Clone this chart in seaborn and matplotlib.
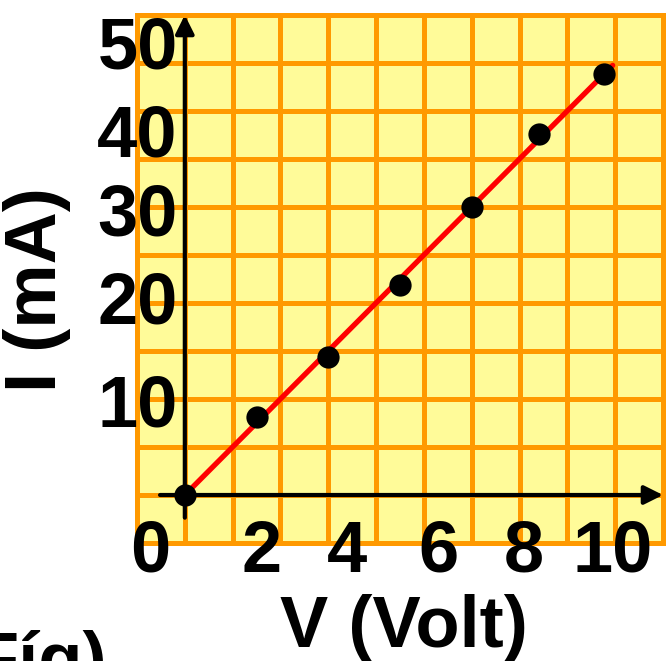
import numpy as np
import pandas as pd
import matplotlib
matplotlib.use('agg')
import matplotlib.pyplot as plt
import seaborn as sns

# measured values (V in Volt, I in mA)
volts = [0, 1.65, 3.3, 4.95, 6.6, 8.15, 9.65]
amps = [0, 8.9, 15.8, 24.1, 33.0, 41.4, 48.2]

xtick_labels = ["0", "2", "4", "6", "8", "10"]
ytick_labels = ["50", "40", "30", "20", "10"]

# where the hand-placed labels sit (data units)
xtick_pos = [-0.8, 1.76, 3.73, 5.84, 7.79, 9.85]
ytick_pos = [48.9, 38.8, 29.7, 19.6, 7.9]

sns.set_style("white")
plt.rcParams['font.family'] = ['Liberation Sans', 'DejaVu Sans']
plt.rcParams['font.weight'] = 'bold'
plt.rcParams['text.color'] = 'black'

yellow = "#FFFB99"
orange = "#FF9900"
fs = 52

fig = plt.figure(figsize=(6.67, 6.61), dpi=100)
W, H = 667, 661
ax = fig.add_axes([137 / W, (H - 543) / H, (663 - 137) / W, (543 - 15) / H])
ax.set_facecolor(yellow)

cx, cy = 1.1, 5.5
ax.set_xlim(-cx, 11 * cx - cx)
ax.set_ylim(-cy, 10 * cy)
ax.set_xticks(np.arange(-cx, 10 * cx + 0.01, cx))
ax.set_yticks(np.arange(-cy, 10 * cy + 0.01, cy))
ax.tick_params(length=0, labelbottom=False, labelleft=False)
ax.grid(True, color=orange, lw=3.6, zorder=0)
ax.set_axisbelow(True)
for s in ax.spines.values():
    s.set_color(orange)
    s.set_linewidth(3.6)

# axes arrows
ax.annotate("", xy=(0, 10 * cy), xytext=(0, -2.6),
            arrowprops=dict(arrowstyle='-|>', lw=3, color='k', mutation_scale=28,
                            shrinkA=0, shrinkB=0), annotation_clip=False, zorder=2)
ax.annotate("", xy=(10 * cx, 0), xytext=(-0.57, 0),
            arrowprops=dict(arrowstyle='-|>', lw=3, color='k', mutation_scale=28,
                            shrinkA=0, shrinkB=0), annotation_clip=False, zorder=2)

# fit line through origin
df = pd.DataFrame({"V": volts, "I": amps})
k = (df.V * df.I).sum() / (df.V ** 2).sum()
fit = pd.DataFrame({"V": [0, df.V.max() * 1.02]})
fit["I"] = k * fit.V
sns.lineplot(data=fit, x="V", y="I", color="#FF0000", lw=3.8, ax=ax, zorder=3)
sns.scatterplot(data=df, x="V", y="I", color="black", s=220, edgecolor=None,
                ax=ax, zorder=4, clip_on=False)
ax.set_xlabel("")
ax.set_ylabel("")

for p, t in zip(xtick_pos, xtick_labels):
    ax.text(p, -8.8, t, ha='center', va='baseline', fontsize=fs,
            fontweight='bold', color='black')
for p, t in zip(ytick_pos, ytick_labels):
    ax.text(-0.16, p, t, ha='right', va='baseline', fontsize=fs,
            fontweight='bold', color='black')

fig.text(404 / W, (H - 647) / H, "V (Volt)", ha='center', va='baseline',
         fontsize=fs, fontweight='bold', color='black')
fig.text(71 / W, (H - 290) / H, "I (mA)", rotation=90, ha='right', va='center',
         fontsize=fs, fontweight='bold', color='black')
fig.text(107 / W, (H - 683) / H, "Fíg)", ha='right', va='baseline',
         fontsize=fs, fontweight='bold', color='black')

plt.savefig("out.png", dpi=100)
plt.close()
